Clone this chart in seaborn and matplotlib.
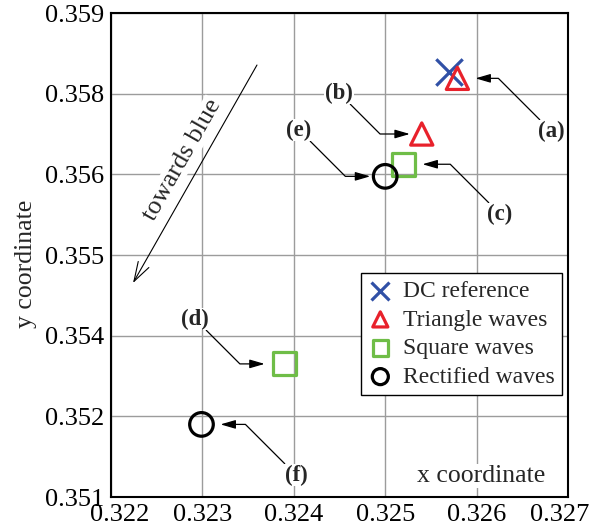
import matplotlib
matplotlib.use("Agg")
import matplotlib.pyplot as plt
import matplotlib.transforms as mtransforms
import numpy as np
import seaborn as sns

# Chromaticity coordinates of the light source for each drive waveform
dc_x = [0.32570]
dc_y = [0.35802]
tri_x = [0.32579, 0.32540]
tri_y = [0.35792, 0.35700]
sq_x = [0.32520, 0.32390]
sq_y = [0.35650, 0.35320]
rect_x = [0.32500, 0.32299]
rect_y = [0.35630, 0.35220]

series_names = ["DC reference", "Triangle waves", "Square waves", "Rectified waves"]
x_ticks = [0.322, 0.323, 0.324, 0.325, 0.326, 0.327]
y_ticks = list(np.linspace(0.351, 0.359, 7))

# Point tags: (label, point x, point y, tag x, tag y, arrow gap in points)
tags = [
    ("(a)", tri_x[0], tri_y[0], 0.326814, 0.357050, 13.0),
    ("(b)", tri_x[1], tri_y[1], 0.324495, 0.357678, 8.6),
    ("(c)", sq_x[0], sq_y[0], 0.326256, 0.355678, 13.7),
    ("(d)", sq_x[1], sq_y[1], 0.322919, 0.353942, 14.4),
    ("(e)", rect_x[0], rect_y[0], 0.324057, 0.357066, 10.8),
    ("(f)", rect_x[1], rect_y[1], 0.324024, 0.351364, 13.7),
]

sns.set_style("whitegrid")
plt.rcParams["font.family"] = ["Liberation Serif", "DejaVu Serif"]

blue = "#3050a6"
red = "#e8212b"
green = "#6fbd47"
black = "#000000"

fig = plt.figure(figsize=(5.91, 5.30), dpi=100)
ax = fig.add_axes([111 / 591, 33 / 530, 457 / 591, 484 / 530])

mew = 2.3
sns.scatterplot(x=dc_x, y=dc_y, marker="x", s=19 ** 2, color=blue,
                linewidth=mew, label=series_names[0], ax=ax, zorder=4)
sns.scatterplot(x=tri_x, y=tri_y, marker="^", s=16 ** 2, color=red,
                facecolor="none", edgecolor=red, linewidth=mew,
                label=series_names[1], ax=ax, zorder=4)
sns.scatterplot(x=sq_x, y=sq_y, marker="s", s=16.5 ** 2, color=green,
                facecolor="none", edgecolor=green, linewidth=mew,
                label=series_names[2], ax=ax, zorder=4)
sns.scatterplot(x=rect_x, y=rect_y, marker="o", s=17 ** 2, color=black,
                facecolor="none", edgecolor=black, linewidth=mew,
                label=series_names[3], ax=ax, zorder=4)

ax.set_xlim(0.322, 0.327)
ax.set_ylim(0.351, 0.359)
ax.set_xticks(x_ticks)
ax.set_xticklabels([f"{v:.3f}" for v in x_ticks])
ax.set_yticks(y_ticks)
ax.set_yticklabels([f"{v:.3f}" for v in y_ticks])
ax.tick_params(axis="both", length=0, labelsize=19, pad=5, colors="black")
ax.grid(True, color="#9c9c9c", linewidth=1.0)
ax.set_axisbelow(True)
for sp in ax.spines.values():
    sp.set_color("black")
    sp.set_linewidth(1.5)

# nudge the outermost x tick labels toward the inside of the figure
xt = ax.xaxis.get_major_ticks()
for tick, dx in ((xt[0], 9), (xt[-1], -8)):
    lab = tick.label1
    lab.set_transform(lab.get_transform()
                      + mtransforms.ScaledTranslation(dx / 100, 0, fig.dpi_scale_trans))

ax.set_xlabel("x coordinate", fontsize=18.5, ha="right", va="baseline",
              bbox=dict(facecolor="white", edgecolor="none", pad=1))
ax.xaxis.set_label_coords(0.95, 0.031)
ax.set_ylabel("y coordinate", fontsize=18.5)
ax.yaxis.set_label_coords(-0.163, 0.481)

# Tagged points with elbow arrows
for text, px, py, tx, ty, gap in tags:
    ax.annotate(text, xy=(px, py), xytext=(tx, ty), xycoords="data",
                textcoords="data", fontsize=16.5, fontweight="bold",
                ha="center", va="center", zorder=5,
                bbox=dict(facecolor="white", edgecolor="none", pad=0.5),
                arrowprops=dict(arrowstyle="-|>,head_length=0.55,head_width=0.16",
                                connectionstyle="angle,angleA=-45,angleB=0,rad=0",
                                color="black", lw=0.9, shrinkA=0, shrinkB=gap))

# Direction hint
ax.annotate("", xy=(0.322241, 0.354537), xytext=(0.323597, 0.358140),
            arrowprops=dict(arrowstyle="->,head_length=0.7,head_width=0.22",
                            color="black", lw=0.8, shrinkA=0, shrinkB=0,
                            mutation_scale=20), zorder=5)
ax.text(0.322777, 0.356570, "towards blue", fontsize=19, rotation=60.4,
        rotation_mode="anchor", ha="center", va="center", zorder=5,
        bbox=dict(facecolor="white", edgecolor="none", pad=0.5))

leg = ax.legend(loc="upper right", bbox_to_anchor=(0.987, 0.463),
                borderaxespad=0, frameon=True, fancybox=False, framealpha=1,
                edgecolor="black", fontsize=17, markerscale=0.68,
                scatterpoints=1, borderpad=0.32, labelspacing=0.3,
                handlelength=1.0, handletextpad=0.45)
leg.get_frame().set_linewidth(1.0)
leg.set_zorder(6)

fig.savefig("out.png", dpi=100)
